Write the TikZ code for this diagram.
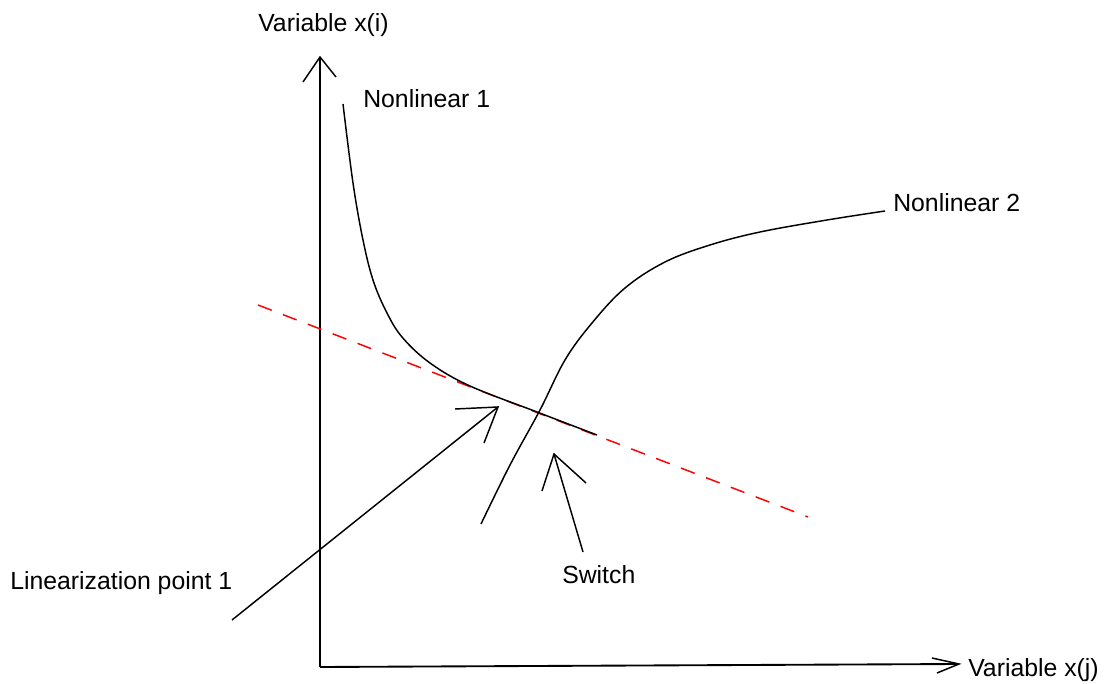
\documentclass[tikz,border=0pt]{standalone}
\usepackage{fontspec}
\setmainfont{Liberation Sans}
\begin{document}
\begin{tikzpicture}[x=0.75pt,y=-0.75pt,
  lbl/.style={anchor=base west,inner sep=0pt,font=\fontsize{18.6}{22}\selectfont},
  axisline/.style={line width=1.4pt,black},
  curveline/.style={line width=1.1pt,black},
  barb/.style={line width=1.1pt,black},
  tangent/.style={line width=1.1pt,red,dash pattern=on 11pt off 9pt}]
\useasboundingbox (0,0) rectangle (1104,684);
% axes
\coordinate (O) at (320,667);
\coordinate (ytip) at (320,57);
\coordinate (xtip) at (959,664);
\draw[axisline] (O) -- (ytip);
\draw[axisline] (O) -- (xtip);
\coordinate (yb1) at (303,82);
\coordinate (yb2) at (336,77);
\draw[barb] (yb1) -- (ytip) -- (yb2);
\coordinate (xb1) at (932,658);
\coordinate (xb2) at (937,673);
\draw[barb] (xb1) -- (xtip) -- (xb2);
% tangent line
\coordinate (t1) at (258,305);
\coordinate (t2) at (808,517);
\draw[tangent] (t1) -- (t2);
% nonlinear 1
\draw[curveline] plot[smooth,tension=0.6] coordinates {(343,104) (353,183) (363,240) (373,280) (386,311) (402,337) (430,363) (470,386) (537,412) (597,435)};
% nonlinear 2
\draw[curveline] plot[smooth,tension=0.6] coordinates {(481,524) (510,465) (540,410) (565,360) (592,323) (625,288) (665,262) (710,245) (760,232) (827,220) (885,211)};
% linearization arrow
\coordinate (la0) at (232,620);
\coordinate (latip) at (498,407);
\coordinate (lab1) at (455,409);
\coordinate (lab2) at (484,443);
\draw[curveline] (la0) -- (latip);
\draw[barb] (lab1) -- (latip) -- (lab2);
% switch arrow
\coordinate (sw0) at (583,552);
\coordinate (swtip) at (554,454);
\coordinate (swb1) at (542,491);
\coordinate (swb2) at (586,483);
\draw[curveline] (sw0) -- (swtip);
\draw[barb] (swb1) -- (swtip) -- (swb2);
% labels
\node[lbl] (lxi) at (258,32) {Variable x(i)};
\node[lbl] (lxj) at (968,676) {Variable x(j)};
\node[lbl] (ln1) at (363,108) {Nonlinear 1};
\node[lbl] (ln2) at (893,212) {Nonlinear 2};
\node[lbl] (llp) at (10,589) {Linearization point 1};
\node[lbl] (lsw) at (562,583) {Switch};
\end{tikzpicture}
\end{document}
